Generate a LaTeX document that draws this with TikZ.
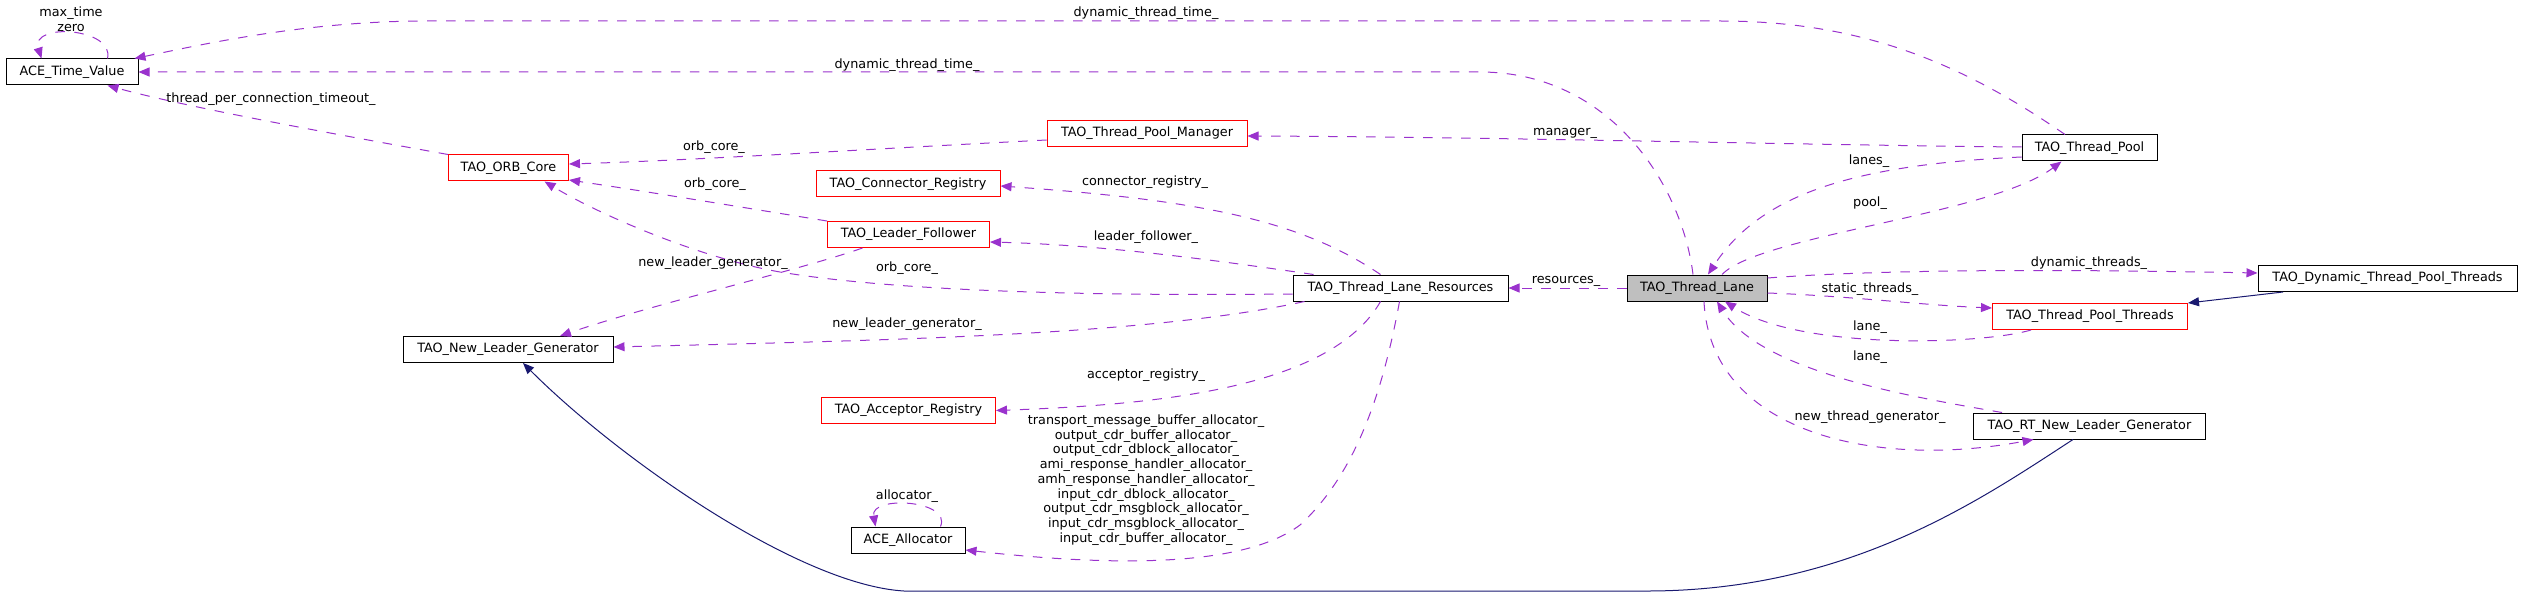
\documentclass[tikz,border=0pt]{standalone}
\usepackage{fontspec}
\setmainfont{DejaVu Sans}
\usetikzlibrary{arrows.meta}
\definecolor{usecol}{HTML}{9A32CD}
\definecolor{inhcol}{HTML}{191970}
\definecolor{maingray}{HTML}{BFBFBF}
\newcommand{\classfont}{\fontsize{12.8}{14.75}\selectfont}
\tikzset{
  cls/.style={draw=black, line width=1pt, fill=white, minimum height=26pt, inner sep=0pt, font=\classfont},
  trunc/.style={cls, draw=red},
  focus/.style={cls, fill=maingray},
  lbl/.style={inner sep=0pt, font=\classfont, align=center},
  uses/.style={draw=usecol, line width=1pt, dash pattern=on 9.5pt off 9.5pt, -{Triangle[length=11pt,width=9pt]}, usecol},
  isa/.style={draw=inhcol, line width=1pt, -{Triangle[length=11pt,width=9pt]}, inhcol}
}
\begin{document}
\begin{tikzpicture}[x=1pt,y=-1pt]
  \useasboundingbox (0,0) rectangle (2523,596);
  \node[cls, minimum width=132pt] (tv) at (72,72) {ACE\_Time\_Value};
  \node[trunc, minimum width=120pt] (orb) at (508.5,168) {TAO\_ORB\_Core};
  \node[trunc, minimum width=200pt] (tpm) at (1147,133.5) {TAO\_Thread\_Pool\_Manager};
  \node[trunc, minimum width=184pt] (cr) at (908,184) {TAO\_Connector\_Registry};
  \node[trunc, minimum width=162pt] (lf) at (908.5,234.5) {TAO\_Leader\_Follower};
  \node[cls, minimum width=210pt] (nlg) at (508,349.5) {TAO\_New\_Leader\_Generator};
  \node[trunc, minimum width=174pt] (ar) at (908.5,410.5) {TAO\_Acceptor\_Registry};
  \node[cls, minimum width=114pt] (alloc) at (908,540) {ACE\_Allocator};
  \node[cls, minimum width=215pt] (tlr) at (1400.5,288) {TAO\_Thread\_Lane\_Resources};
  \node[focus, minimum width=140pt] (tl) at (1697,288) {TAO\_Thread\_Lane};
  \node[cls, minimum width=135pt] (tp) at (2089.5,148) {TAO\_Thread\_Pool};
  \node[cls, minimum width=259pt] (dtpt) at (2387.5,278.5) {TAO\_Dynamic\_Thread\_Pool\_Threads};
  \node[trunc, minimum width=195pt] (tpt) at (2090,316.5) {TAO\_Thread\_Pool\_Threads};
  \node[cls, minimum width=232pt] (rtnlg) at (2089.5,426) {TAO\_RT\_New\_Leader\_Generator};

  \draw[uses] ([xshift=-24.5pt]tp.north) .. controls (1960,62) and (1860,21) .. (1720,21) -- (420,21) .. controls (300,22) and (200,45) .. ([xshift=-4pt]tv.north east);
  \draw[uses] ([xshift=-4pt]tl.north) .. controls (1682,185) and (1610,72) .. (1480,72) -- (tv.east);
  \draw[uses] (orb.north west) .. controls (340,135) and (190,108) .. ([xshift=-31pt]tv.south east);
  \draw[uses] ([xshift=-31pt]tv.north east) .. controls (115,28) and (30,22) .. ([xshift=36pt]tv.north west);
  \draw[uses] ([yshift=-6.5pt]tpm.west) .. controls (850,150) and (700,160) .. ([yshift=4pt]orb.east);
  \draw[uses] (lf.north west) .. controls (740,207) and (650,192) .. ([yshift=-12pt]orb.east);
  \draw[uses] ([yshift=-6pt]tlr.west) .. controls (1100,296) and (900,292) .. (780,272) .. controls (700,258) and (600,215) .. ([xshift=36pt]orb.south);
  \draw[uses] ([xshift=21pt]tlr.north west) .. controls (1200,258) and (1100,245) .. ([yshift=-7.5pt]lf.east);
  \draw[uses] ([xshift=-20pt]tlr.north) .. controls (1300,220) and (1200,200) .. ([yshift=-2pt]cr.east);
  \draw[uses] ([xshift=12pt]tlr.south west) .. controls (1150,335) and (900,340) .. ([yshift=2.5pt]nlg.east);
  \draw[uses] ([xshift=-46pt]lf.south) .. controls (800,270) and (650,305) .. ([xshift=52pt]nlg.north);
  \draw[uses] ([xshift=-20pt]tlr.south) .. controls (1330,390) and (1150,405) .. (ar.east);
  \draw[uses] ([xshift=-1pt]tlr.south) .. controls (1385,380) and (1360,470) .. (1300,525) .. controls (1240,570) and (1100,565) .. ([yshift=-10pt]alloc.east);
  \draw[uses] ([xshift=-25pt]alloc.north east) .. controls (952,500) and (870,495) .. ([xshift=25pt]alloc.north west);
  \draw[uses] (tl.west) -- (tlr.east);
  \draw[uses] ([yshift=1pt]tp.west) .. controls (1800,145) and (1500,137) .. ([yshift=-2.5pt]tpm.east);
  \draw[uses] ([yshift=-9pt]tp.west) .. controls (1850,165) and (1760,195) .. ([xshift=11pt]tl.north);
  \draw[uses] ([xshift=25pt]tl.north) .. controls (1760,235) and (1990,215) .. ([xshift=-28pt]tp.south);
  \draw[uses] ([yshift=10pt]tl.east) .. controls (1900,268) and (2100,270) .. ([yshift=5.5pt]dtpt.west);
  \draw[uses] ([yshift=-5pt]tl.east) .. controls (1850,296) and (1920,305) .. ([yshift=8.5pt]tpt.west);
  \draw[uses] ([xshift=-59pt]tpt.south) .. controls (1980,345) and (1800,350) .. ([xshift=28pt]tl.south);
  \draw[uses] ([xshift=-87.5pt]rtnlg.north) .. controls (1900,395) and (1760,370) .. ([xshift=20pt]tl.south);
  \draw[uses] ([xshift=7pt]tl.south) .. controls (1710,430) and (1870,470) .. ([xshift=-56pt]rtnlg.south);
  \draw[isa] ([xshift=-104.5pt]dtpt.south) -- (tpt.north east);
  \draw[isa] ([xshift=-16.5pt]rtnlg.south) .. controls (1980,500) and (1850,590) .. (1650,591) -- (904,591) .. controls (800,585) and (620,460) .. ([xshift=15pt]nlg.south);

  \node[lbl] (lmax) at (71,13) {max\_time};
  \node[lbl] (lzero) at (71,28) {zero};
  \node[lbl] (ldtt) at (1146,13) {dynamic\_thread\_time\_};
  \node[lbl] (ldtl) at (907,65) {dynamic\_thread\_time\_};
  \node[lbl] (ltpc) at (271,99) {thread\_per\_connection\_timeout\_};
  \node[lbl] (lorba) at (714,147) {orb\_core\_};
  \node[lbl] (lorbb) at (715,184) {orb\_core\_};
  \node[lbl] (lorbc) at (907,268) {orb\_core\_};
  \node[lbl] (lcr) at (1145,182) {connector\_registry\_};
  \node[lbl] (llf) at (1146,237) {leader\_follower\_};
  \node[lbl] (lnlga) at (713,263) {new\_leader\_generator\_};
  \node[lbl] (lnlgb) at (907,324) {new\_leader\_generator\_};
  \node[lbl] (lar) at (1146,375) {acceptor\_registry\_};
  \node[lbl] (lalloc) at (907,496) {allocator\_};
  \node[lbl] (lallocs) at (1146,480) {transport\_message\_buffer\_allocator\_\\output\_cdr\_buffer\_allocator\_\\output\_cdr\_dblock\_allocator\_\\ami\_response\_handler\_allocator\_\\amh\_response\_handler\_allocator\_\\input\_cdr\_dblock\_allocator\_\\output\_cdr\_msgblock\_allocator\_\\input\_cdr\_msgblock\_allocator\_\\input\_cdr\_buffer\_allocator\_};
  \node[lbl] (lmgr) at (1565,133) {manager\_};
  \node[lbl] (llanes) at (1869,161) {lanes\_};
  \node[lbl] (lpool) at (1870,203) {pool\_};
  \node[lbl] (lres) at (1566,281) {resources\_};
  \node[lbl] (ldyn) at (2089,263) {dynamic\_threads\_};
  \node[lbl] (lstat) at (1870,289) {static\_threads\_};
  \node[lbl] (llanea) at (1870,327) {lane\_};
  \node[lbl] (llaneb) at (1870,357) {lane\_};
  \node[lbl] (lntg) at (1870,417) {new\_thread\_generator\_};
\end{tikzpicture}
\end{document}
